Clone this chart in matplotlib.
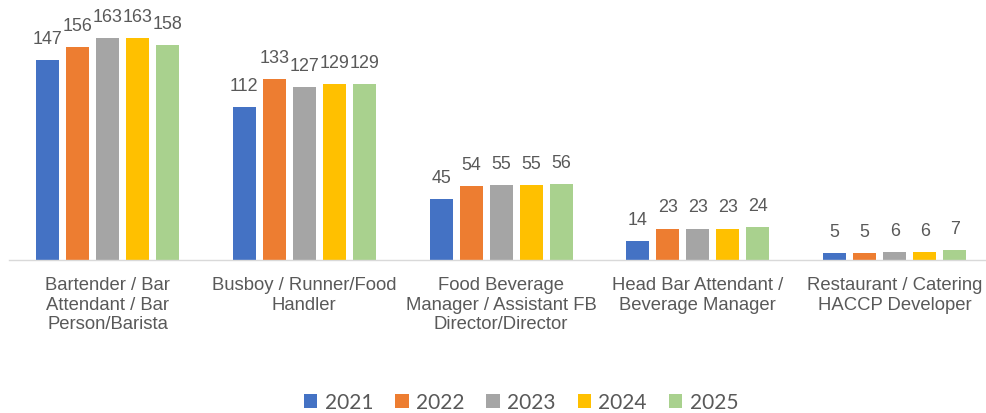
import matplotlib.pyplot as plt
import numpy as np

# categories and values per year
categories = [
    "Bartender / Bar\nAttendant / Bar\nPerson/Barista",
    "Busboy / Runner/Food\nHandler",
    "Food Beverage\nManager / Assistant FB\nDirector/Director",
    "Head Bar Attendant /\nBeverage Manager",
    "Restaurant / Catering\nHACCP Developer",
]
years = ["2021", "2022", "2023", "2024", "2025"]
v2021 = [147, 112, 45, 14, 5]
v2022 = [156, 133, 54, 23, 5]
v2023 = [163, 127, 55, 23, 6]
v2024 = [163, 129, 55, 23, 6]
v2025 = [158, 129, 56, 24, 7]
series = [v2021, v2022, v2023, v2024, v2025]
colors = ["#4472C4", "#ED7D31", "#A5A5A5", "#FFC000", "#A9D18E"]

fig = plt.figure(figsize=(9.86, 4.14), dpi=100)
ax = fig.add_axes([9.1 / 986, (414 - 261) / 414, (993 - 9.1) / 986, 261 / 414])

x = np.arange(len(categories))
pitch = 30 / 196.75
width = 23 / 196.75
for i, (vals, col, yr) in enumerate(zip(series, colors, years)):
    pos = x + (i - 2) * pitch
    bars = ax.bar(pos, vals, width, color=col, label=yr)
    for b, v in zip(bars, vals):
        ax.annotate(str(v), (b.get_x() + b.get_width() / 2, v),
                    xytext=(0, 9.5), textcoords="offset points",
                    ha="center", va="bottom", fontsize=12.9,
                    family="Liberation Sans", color="#595959")

ax.set_xlim(-0.5, 4.5)
ax.set_ylim(0, 191.6)
ax.set_xticks(x)
ax.set_xticklabels(categories, fontsize=13.3, family="Liberation Sans",
                   color="#595959", linespacing=1.2)
ax.tick_params(axis="x", length=0, pad=11.5)
ax.set_yticks([])
for s in ["top", "left", "right"]:
    ax.spines[s].set_visible(False)
ax.spines["bottom"].set_color("#D9D9D9")
ax.spines["bottom"].set_linewidth(1)

leg = fig.legend(loc="center", bbox_to_anchor=(521 / 986, 1 - 403 / 414),
                 ncol=5, frameon=False, handlelength=0.65, handleheight=0.65,
                 handletextpad=0.35, columnspacing=1.05,
                 prop={"family": "Lato", "size": 15})
for t in leg.get_texts():
    t.set_color("#595959")

fig.savefig("out.png", dpi=100)
